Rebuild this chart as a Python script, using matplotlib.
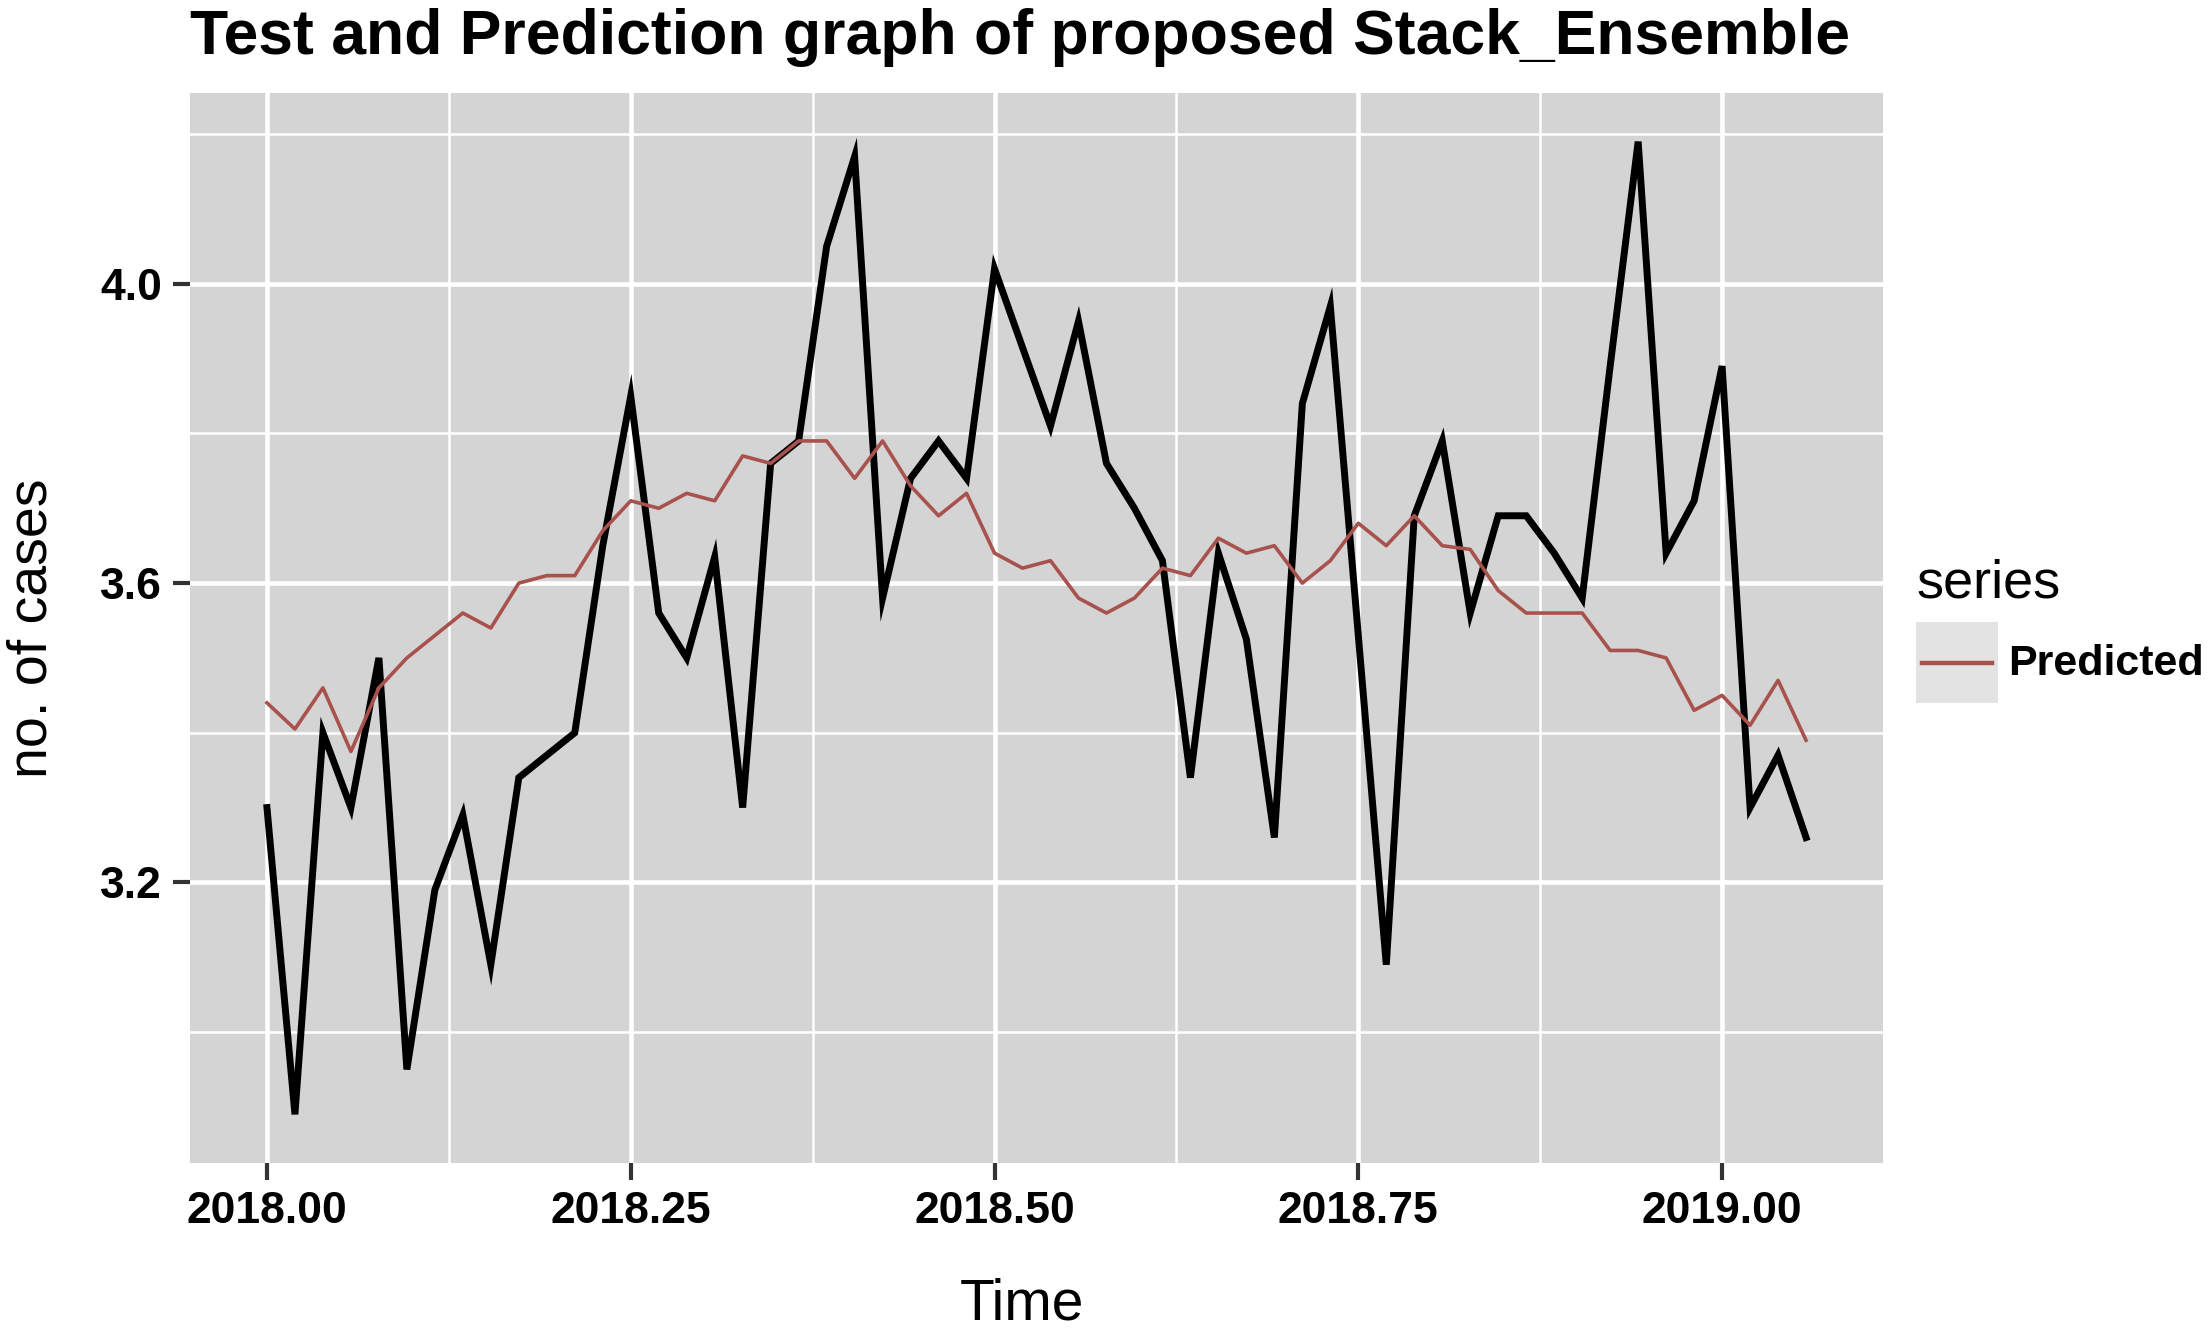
import numpy as np
import matplotlib
matplotlib.use("Agg")
import matplotlib.pyplot as plt
from matplotlib.patches import Rectangle
from matplotlib.lines import Line2D

# weekly series, start 2018 week 1
start_year = 2018
weeks_per_year = 52

test_values = [3.30, 2.89, 3.40, 3.30, 3.50, 2.95, 3.19, 3.29, 3.09, 3.34,
               3.37, 3.40, 3.65, 3.85, 3.56, 3.50, 3.635, 3.30, 3.76, 3.79,
               4.05, 4.17, 3.58, 3.74, 3.79, 3.74, 4.02, 3.915, 3.81, 3.95,
               3.76, 3.70, 3.63, 3.34, 3.64, 3.525, 3.26, 3.84, 3.97, 3.53,
               3.09, 3.69, 3.79, 3.56, 3.69, 3.69, 3.64, 3.58, 3.89, 4.19,
               3.64, 3.71, 3.89, 3.30, 3.37, 3.26]

predicted_values = [3.44, 3.405, 3.46, 3.375, 3.46, 3.50, 3.53, 3.56, 3.54, 3.60,
                    3.61, 3.61, 3.67, 3.71, 3.70, 3.72, 3.71, 3.77, 3.76, 3.79,
                    3.79, 3.74, 3.79, 3.73, 3.69, 3.72, 3.64, 3.62, 3.63, 3.58,
                    3.56, 3.58, 3.62, 3.61, 3.66, 3.64, 3.65, 3.60, 3.63, 3.68,
                    3.65, 3.69, 3.65, 3.645, 3.59, 3.56, 3.56, 3.56, 3.51, 3.51,
                    3.50, 3.43, 3.45, 3.41, 3.47, 3.39]

x_major = [2018.00, 2018.25, 2018.50, 2018.75, 2019.00]
x_minor = [2018.125, 2018.375, 2018.625, 2018.875]
y_major = [3.2, 3.6, 4.0]
y_minor = [3.0, 3.4, 3.8, 4.2]

time = start_year + np.arange(len(test_values)) / weeks_per_year

W, H = 2210, 1334
fig = plt.figure(figsize=(W / 100, H / 100), dpi=100)
fig.patch.set_facecolor("white")

left, right, top, bottom = 190, 1883, 93, 1163
ax = fig.add_axes([left / W, 1 - bottom / H, (right - left) / W, (bottom - top) / H])
ax.set_facecolor("#d4d4d4")
for s in ax.spines.values():
    s.set_visible(False)

ax.plot(time, test_values, color="black", linewidth=5, zorder=3,
        solid_joinstyle="miter")
ax.plot(time, predicted_values, color="#a8524e", linewidth=2.6, zorder=4)
ax.margins(x=0.05, y=0.05)

ax.set_xticks(x_major)
ax.set_xticks(x_minor, minor=True)
ax.set_yticks(y_major)
ax.set_yticks(y_minor, minor=True)
ax.set_xticklabels([f"{v:.2f}" for v in x_major])
ax.set_yticklabels([f"{v:.1f}" for v in y_major])

ax.grid(which="major", color="white", linewidth=3.3, zorder=1)
ax.grid(which="minor", color="white", linewidth=1.8, zorder=1)
ax.set_axisbelow(True)

ax.tick_params(which="major", length=12, width=3, color="#333333", pad=8,
               labelsize=32, labelcolor="black")
ax.tick_params(which="minor", length=0)
for lab in ax.get_xticklabels() + ax.get_yticklabels():
    lab.set_fontfamily("Liberation Sans")
    lab.set_fontweight("bold")

# titles
fig.text(left / W, 1 - 54 / H, "Test and Prediction graph of proposed Stack_Ensemble",
         fontsize=45, fontweight="bold", family="Liberation Sans", va="baseline", ha="left")
fig.text(1022 / W, 1 - 1305 / H, "Time", fontsize=41, family="Liberation Sans",
         ha="center", va="center")
fig.text(33 / W, 1 - 628 / H, "no. of cases", fontsize=40, family="Liberation Sans",
         ha="center", va="center", rotation=90)

# legend
fig.text(1917 / W, 1 - 598 / H, "series", fontsize=39, family="Liberation Sans",
         ha="left", va="baseline")
fig.patches.append(Rectangle((1916 / W, 1 - 703 / H), 82 / W, 81 / H,
                             transform=fig.transFigure, facecolor="#e3e3e3",
                             edgecolor="none"))
fig.lines.append(Line2D([1922 / W, 1992 / W], [1 - 663 / H, 1 - 663 / H],
                        transform=fig.transFigure, color="#a8524e", linewidth=3.2))
fig.text(2008 / W, 1 - 664 / H, "Predicted", fontsize=31, fontweight="bold",
         family="Liberation Sans", ha="left", va="center")

fig.savefig("out.png", dpi=100)
